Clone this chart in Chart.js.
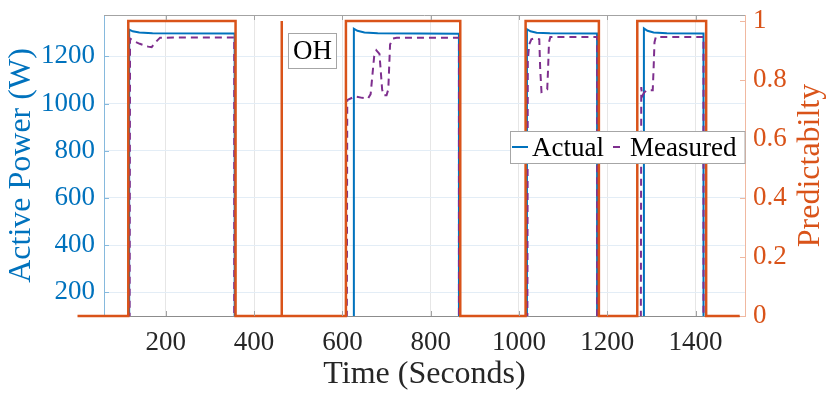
<!DOCTYPE html>
<html>
<head>
<meta charset="utf-8">
<script src="https://cdn.jsdelivr.net/npm/chart.js@4.4.0/dist/chart.umd.min.js"></script>
<style>
    html, body { margin: 0; padding: 0; background: #ffffff; }
    #wrap { width: 830px; height: 394px; }
</style>
</head>
<body>
<div id="wrap"><canvas id="powerChart" width="830" height="394"></canvas></div>
<script>

const timeTicks = [200, 400, 600, 800, 1000, 1200, 1400];
const powerTicks = [200, 400, 600, 800, 1000, 1200];
const predTicks = [0, 0.2, 0.4, 0.6, 0.8, 1];

const predTime = [0, 115, 115, 358, 358, 462, 462, 463, 463, 608, 608, 867, 867, 1015, 1015, 1181, 1181, 1268, 1268, 1424, 1424, 1500];
const predValue = [0, 0, 1, 1, 0, 0, 1, 1, 0, 0, 1, 1, 0, 0, 1, 1, 0, 0, 1, 1, 0, 0];

const actualTime = [0, 117, 117, 125, 140, 170, 356, 356, 626, 626, 634, 650, 680, 864, 864, 1018, 1018, 1026, 1040, 1070, 1177, 1177, 1283, 1283, 1291, 1305, 1335, 1418, 1418, 1500];
const actualPower = [0, 0, 1313, 1306, 1301, 1298, 1297, 0, 0, 1317, 1308, 1301, 1298, 1296, 0, 0, 1315, 1306, 1300, 1298, 1297, 0, 0, 1318, 1308, 1301, 1298, 1297, 0, 0];

const measuredTime = [0, 118, 119, 130, 141, 160, 168, 178, 187, 355, 355,
    610, 611, 628, 645, 658, 664, 672, 677, 684, 690, 693, 700, 704, 708, 714, 723, 864, 864,
    1019, 1020, 1023, 1028, 1036, 1046, 1048, 1051, 1064, 1066, 1068, 1071, 1177, 1177,
    1276, 1277, 1279, 1283, 1289, 1303, 1305, 1307, 1310, 1418, 1418, 1500];
const measuredPower = [0, 0, 1275, 1262, 1253, 1241, 1239, 1262, 1279, 1280, 0,
    0, 1014, 1030, 1024, 1021, 1040, 1200, 1225, 1210, 1060, 1035, 1035, 1060, 1250, 1275, 1279, 1279, 0,
    0, 1180, 1250, 1272, 1276, 1272, 1150, 1049, 1060, 1150, 1260, 1282, 1282, 0,
    0, 1070, 1030, 1045, 1056, 1056, 1150, 1260, 1282, 1282, 0, 0];

const blue = "#0072BD";
const orange = "#D95319";
const purple = "#7E2F8E";
const serif = "'Liberation Serif', 'Times New Roman', serif";

Chart.defaults.font.family = serif;

function toPoints(xs, ys) {
    return xs.map((x, i) => ({ x, y: ys[i] }));
}

function fixTicks(values) {
    return scale => {
        scale.ticks = values.map(v => ({ value: v }));
    };
}

const overlayPlugin = {

    id: "overlay",

    afterDraw(chart) {

        const { ctx, chartArea, scales } = chart;
        const { left, right, top, bottom } = chartArea;

        ctx.save();

        ctx.lineWidth = 1;
        ctx.strokeStyle = "#a3a3a3";
        ctx.beginPath();
        ctx.moveTo(left, top + 0.5);
        ctx.lineTo(right, top + 0.5);
        ctx.stroke();

        timeTicks.forEach(v => {
            const px = Math.round(scales.x.getPixelForValue(v)) + 0.5;
            ctx.beginPath();
            ctx.moveTo(px, bottom);
            ctx.lineTo(px, bottom - 5);
            ctx.moveTo(px, top);
            ctx.lineTo(px, top + 5);
            ctx.stroke();
        });

        ctx.strokeStyle = "#86b9dd";
        powerTicks.forEach(v => {
            const py = Math.round(scales.y.getPixelForValue(v)) + 0.5;
            ctx.beginPath();
            ctx.moveTo(left, py);
            ctx.lineTo(left + 5, py);
            ctx.stroke();
        });

        ctx.strokeStyle = "#f0b8a0";
        predTicks.forEach(v => {
            const py = Math.round(scales.y1.getPixelForValue(v)) + 0.5;
            ctx.beginPath();
            ctx.moveTo(right, py);
            ctx.lineTo(right - 5, py);
            ctx.stroke();
        });

        ctx.save();
        ctx.translate(811, (top + bottom) / 2);
        ctx.rotate(-Math.PI / 2);
        ctx.fillStyle = orange;
        ctx.font = "32px " + serif;
        ctx.textAlign = "center";
        ctx.textBaseline = "middle";
        ctx.fillText("Predictabilty", 0, 0);
        ctx.restore();

        ctx.font = "27px " + serif;
        ctx.textBaseline = "middle";

        ctx.fillStyle = "#ffffff";
        ctx.fillRect(288.5, 33.5, 48, 35);
        ctx.strokeStyle = "#a6a6a6";
        ctx.strokeRect(288.5, 33.5, 48, 35);
        ctx.fillStyle = "#000000";
        ctx.textAlign = "center";
        ctx.fillText("OH", 312.5, 52);

        const lx = 510.5;
        const ly = 131.5;
        ctx.fillStyle = "#ffffff";
        ctx.fillRect(lx, ly, right - lx, 32);
        ctx.strokeStyle = "#a6a6a6";
        ctx.strokeRect(lx, ly, right - lx, 32);

        ctx.lineWidth = 2;
        ctx.strokeStyle = blue;
        ctx.beginPath();
        ctx.moveTo(512, 147);
        ctx.lineTo(528, 147);
        ctx.stroke();

        ctx.strokeStyle = purple;
        ctx.beginPath();
        ctx.moveTo(613, 147);
        ctx.lineTo(620, 147);
        ctx.stroke();

        ctx.fillStyle = "#000000";
        ctx.textAlign = "left";
        ctx.fillText("Actual", 532, 149);
        ctx.fillText("Measured", 630, 149);

        ctx.restore();

    }

};

const ctx = document.getElementById("powerChart");

new Chart(ctx, {

    type: "line",

    data: {

        datasets: [
            {
                label: "Predictability",
                data: toPoints(predTime, predValue),
                yAxisID: "y1",
                borderColor: orange,
                borderWidth: 2.5,
                pointRadius: 0,
                tension: 0,
                clip: false,
                order: 0
            },
            {
                label: "Actual",
                data: toPoints(actualTime, actualPower),
                yAxisID: "y",
                borderColor: blue,
                borderWidth: 2,
                pointRadius: 0,
                tension: 0,
                order: 2
            },
            {
                label: "Measured",
                data: toPoints(measuredTime, measuredPower),
                yAxisID: "y",
                borderColor: purple,
                borderWidth: 2,
                borderDash: [7, 5],
                pointRadius: 0,
                tension: 0,
                order: 1
            }
        ]

    },

    options: {

        responsive: false,
        animation: false,
        events: [],

        layout: {
            padding: { top: 15, left: 0, right: 0, bottom: 0 }
        },

        plugins: {
            legend: { display: false },
            tooltip: { enabled: false }
        },

        scales: {

            x: {
                type: "linear",
                min: 60,
                max: 1512,
                afterBuildTicks: fixTicks(timeTicks),
                afterFit: s => { s.height = 78; s.paddingLeft = 0; s.paddingRight = 0; },
                grid: { color: "#e6e6e6", drawTicks: false },
                border: { color: "#8c8c8c" },
                ticks: {
                    color: "#262626",
                    font: { family: serif, size: 27 },
                    padding: 11,
                    maxRotation: 0,
                    autoSkip: false,
                    callback: v => String(v)
                },
                title: {
                    display: true,
                    text: "Time (Seconds)",
                    color: "#262626",
                    font: { family: serif, size: 32 },
                    padding: { top: 0, bottom: 0 }
                }
            },

            y: {
                position: "left",
                min: 100,
                max: 1375,
                afterBuildTicks: fixTicks(powerTicks),
                afterFit: s => { s.width = 104; s.paddingTop = 0; s.paddingBottom = 0; },
                grid: { color: "#e3edf6", drawTicks: false },
                border: { color: "#86b9dd" },
                ticks: {
                    color: blue,
                    font: { family: serif, size: 27 },
                    padding: 9,
                    autoSkip: false,
                    callback: v => String(v)
                },
                title: {
                    display: true,
                    text: "Active Power (W)",
                    color: blue,
                    font: { family: serif, size: 32 },
                    padding: { top: 2, bottom: 0 }
                }
            },

            y1: {
                position: "right",
                min: 0,
                max: 1.02,
                afterBuildTicks: fixTicks(predTicks),
                afterFit: s => { s.width = 85; s.paddingTop = 0; s.paddingBottom = 0; },
                grid: { display: false, drawTicks: false },
                border: { color: "#f0b8a0" },
                ticks: {
                    color: orange,
                    font: { family: serif, size: 27 },
                    padding: 8,
                    autoSkip: false,
                    callback: v => String(Math.round(v * 10) / 10)
                }
            }

        }

    },

    plugins: [overlayPlugin]

});

</script>
</body>
</html>
